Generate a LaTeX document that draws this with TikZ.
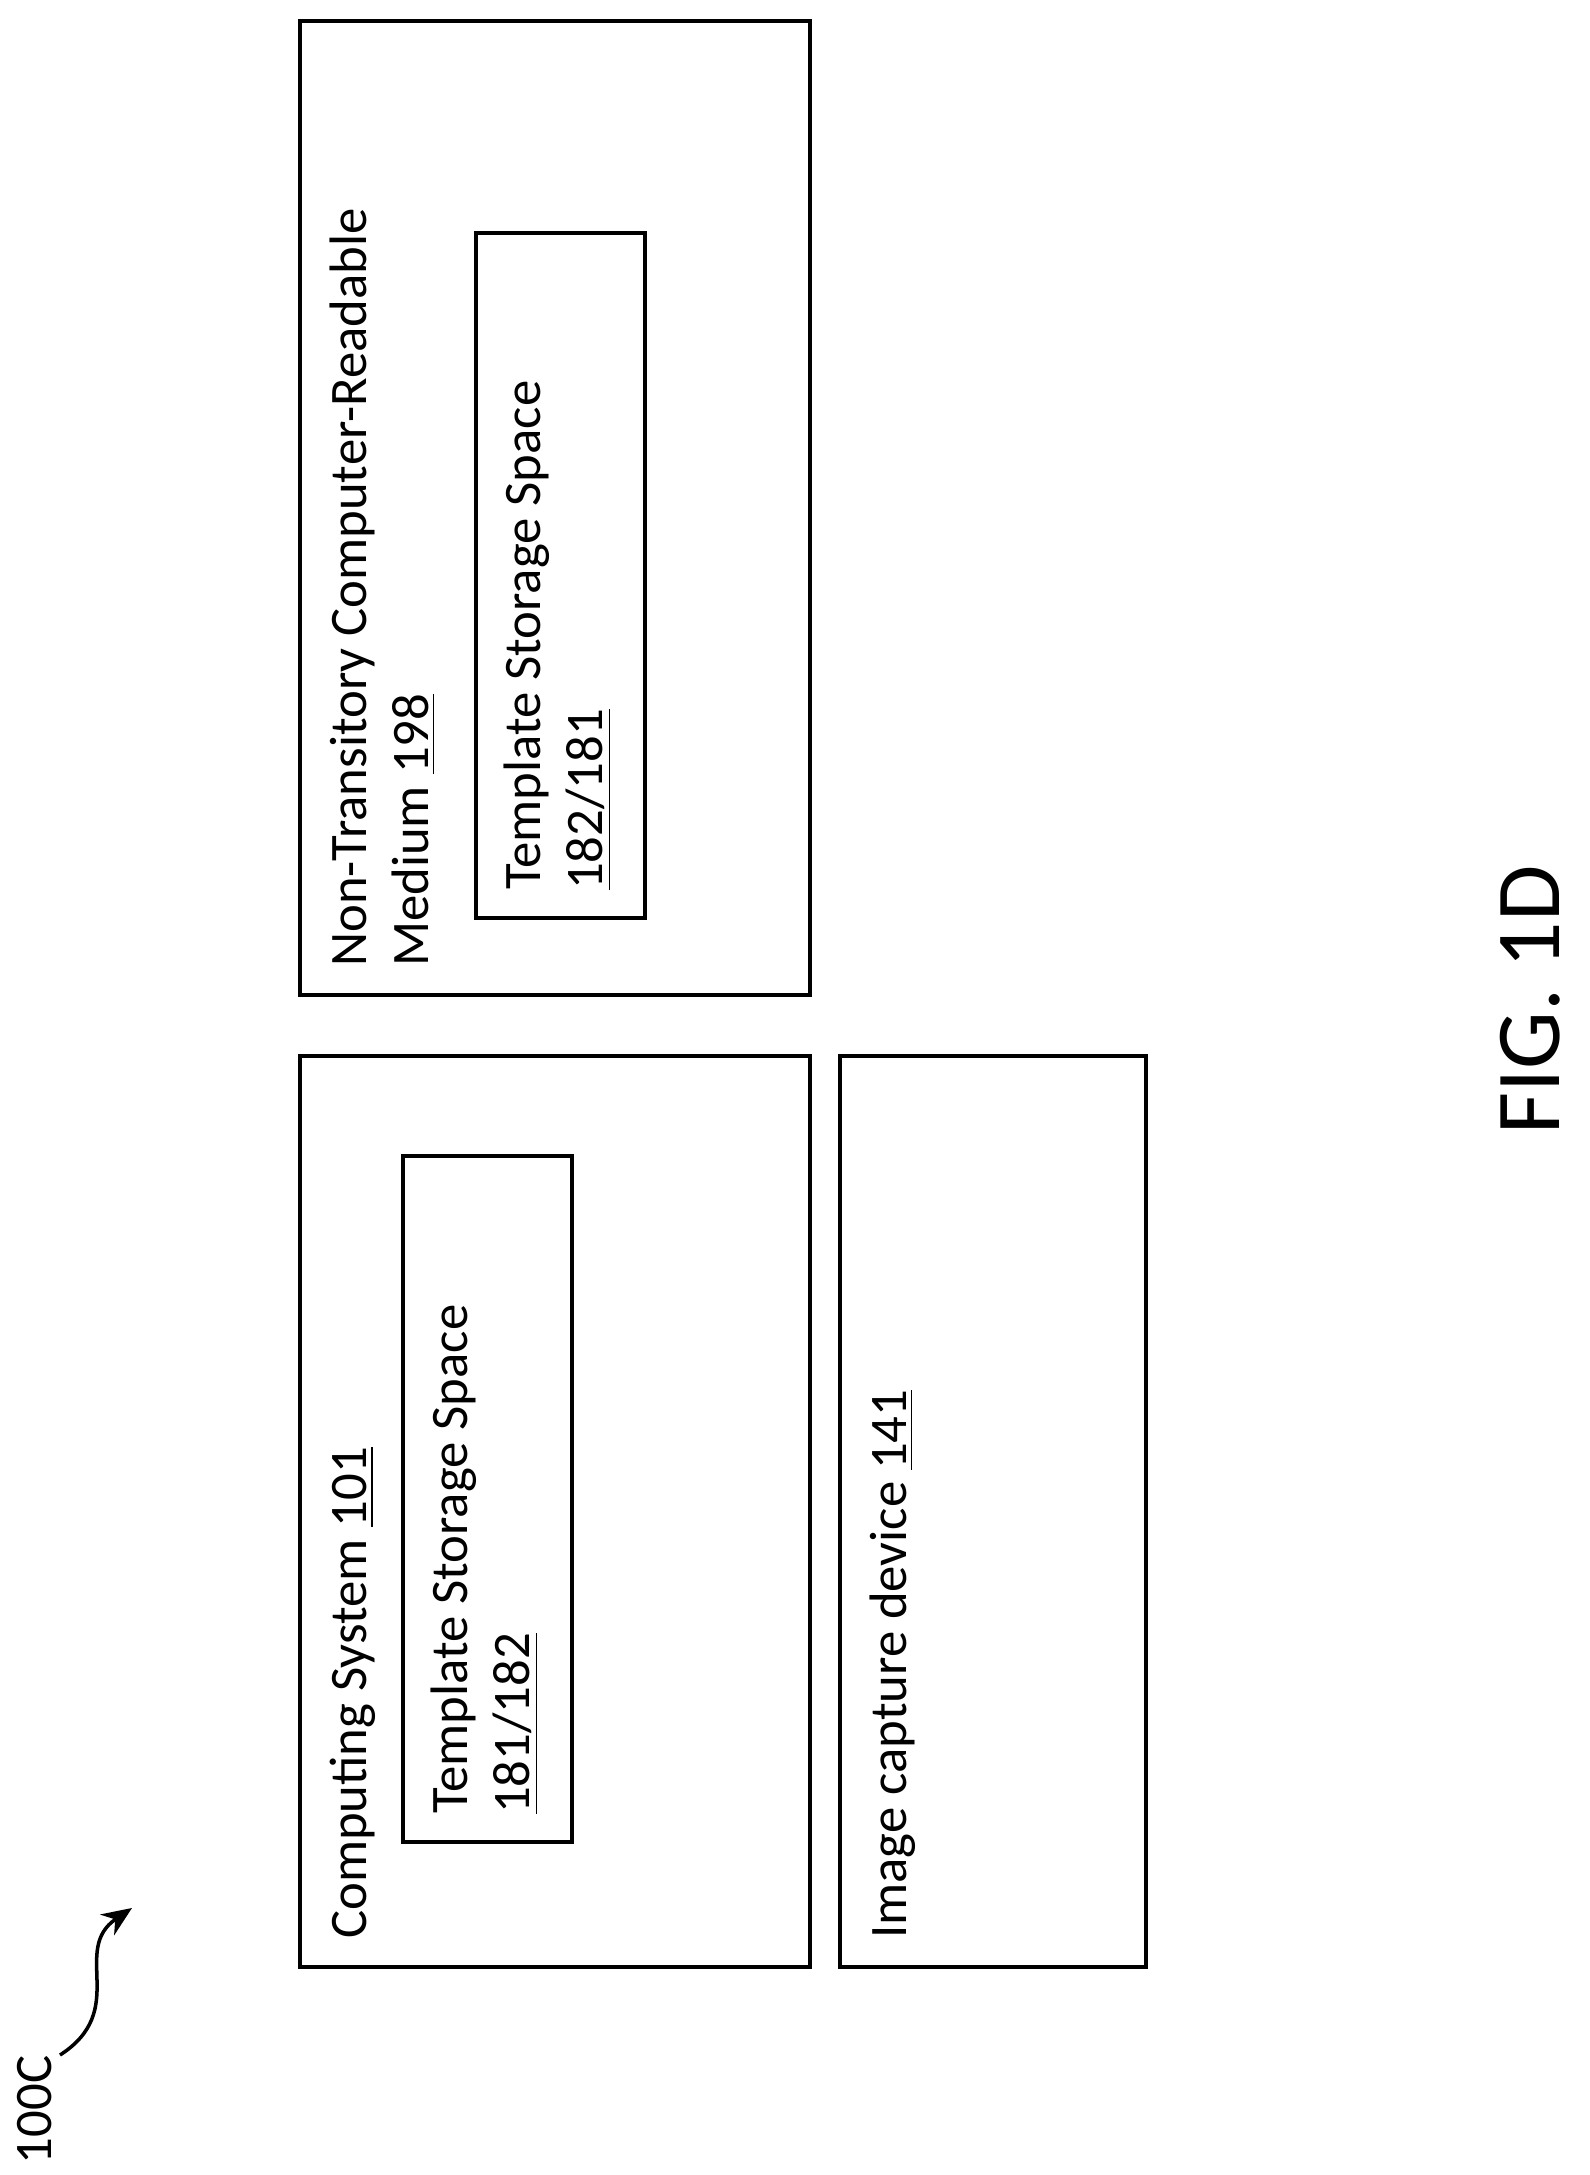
\documentclass[tikz,border=0pt]{standalone}
\usepackage{fontspec}
\setmainfont{Carlito}
\usetikzlibrary{arrows.meta,positioning,calc}

\begin{document}
\begin{tikzpicture}[
        box/.style={rectangle, draw, line width=1.4pt, inner sep=0pt},
        label/.style={rotate=90, anchor=north west, align=left, inner sep=0pt, font=\fontsize{15}{17.5}\selectfont},
        arrow/.style={-{Stealth[length=3mm, width=2.5mm]}, line width=1pt}
    ]
        \useasboundingbox (0,0) rectangle (15.9,-21.75);

        % Computing system
        \node[box, minimum width=5.1cm, minimum height=9.11cm] (comp) at (5.55,-15.115) {};
        \node[box, minimum width=1.69cm, minimum height=6.86cm] (compstore) at (4.875,-14.99) {};
        \node[label] (complbl) at ($(comp.south west)+(0.32,0.3)$) {Computing System \underline{101}};
        \node[label] (compstorelbl) at ($(compstore.south west)+(0.3,0.3)$) {Template Storage Space\\\underline{181/182}};

        % Image capture device
        \node[box, minimum width=3.06cm, minimum height=9.11cm] (cam) at (9.93,-15.115) {};
        \node[label] (camlbl) at ($(cam.south west)+(0.32,0.3)$) {Image capture device \underline{141}};

        % Non-transitory medium
        \node[box, minimum width=5.1cm, minimum height=9.74cm] (medium) at (5.55,-5.08) {};
        \node[box, minimum width=1.69cm, minimum height=6.85cm] (mediumstore) at (5.605,-5.755) {};
        \node[label] (mediumlbl) at ($(medium.south west)+(0.32,0.3)$) {Non-Transitory Computer-Readable\\Medium \underline{198}};
        \node[label] (mediumstorelbl) at ($(mediumstore.south west)+(0.3,0.3)$) {Template Storage Space\\\underline{182/181}};

        % Figure labels
        \node[rotate=90, font=\fontsize{26}{28}\selectfont] (fig) at (15.3,-10.0) {FIG. 1D};
        \node[rotate=90, font=\fontsize{15}{17}\selectfont] (ref) at (0.35,-21.1) {100C};
        \coordinate (reftail) at (0.6,-20.55);
        \draw[arrow] (reftail) .. controls (1.3,-20.1) and (0.7,-19.5) .. (1.32,-19.08);
    \end{tikzpicture}
\end{document}
